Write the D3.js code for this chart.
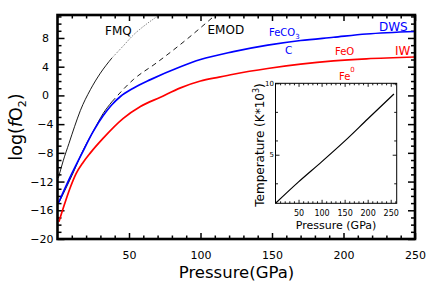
<!DOCTYPE html>
<html>
<head>
<meta charset="utf-8">
<script src="https://cdn.jsdelivr.net/npm/d3@7"></script>
<style>
  body { margin: 0; background: #fff; }
  svg { display: block; font-family: "DejaVu Sans", sans-serif; }
</style>
</head>
<body>
<div id="chart"></div>
<script>
// ---- data (pressure in GPa, log fO2) ----
var iwP   = [1, 5, 9, 13, 18, 23, 32, 46, 58, 72, 86, 100, 113, 123, 147, 170, 193, 216, 250];
var iwV   = [-17.6, -15.1, -12.8, -10.9, -9.3, -8.0, -5.95, -3.2, -1.55, -0.25, 1.05, 2.0, 2.55, 2.95, 3.75, 4.35, 4.8, 5.1, 5.35];

var dwsP  = [0.6, 10, 17, 25, 32, 38, 44, 53, 65, 86, 100, 123, 147, 170, 193, 216, 250];
var dwsV  = [-15, -10.9, -8.1, -5.0, -2.8, -1.3, -0.15, 1.0, 2.2, 4.0, 5.0, 6.1, 7.0, 7.65, 8.1, 8.55, 8.9];

var fmqP    = [0.6, 4, 8, 12, 16, 23, 30, 38];
var fmqV    = [-11.5, -9.1, -6.7, -4.3, -2.1, 0.8, 3.1, 5.2];
var fmqDotP = [38, 46, 53, 62, 72];
var fmqDotV = [5.2, 6.9, 8.4, 9.9, 11.3];

var emodP     = [1.3, 10, 18, 25, 32, 38];
var emodV     = [-14.8, -11.2, -7.6, -5.0, -2.5, -0.9];
var emodDashP = [38, 53, 69, 90, 104, 111];
var emodDashV = [-0.9, 2.2, 4.5, 7.75, 10.1, 11.3];

// inset: temperature (K*10^3) vs pressure
var tempP = [0, 50, 100, 150, 200, 257];
var tempT = [1.6, 3.1, 4.5, 5.95, 7.5, 9.25];

var xTicks = [50, 100, 150, 200, 250];
var yTicks = [-20, -16, -12, -8, -4, 0, 4, 8];
var insetXTicks = [50, 100, 150, 200, 250];
var insetYTicks = [5, 10];
var insetYMinor = [3, 6, 8];

var margin = {top: 15, right: 21, bottom: 58, left: 57.5},
    width = 436 - margin.left - margin.right,
    height = 297 - margin.top - margin.bottom;

var svg = d3.select("#chart").append("svg")
    .attr("width", 436)
    .attr("height", 297);

var g = svg.append("g")
    .attr("transform", "translate(" + margin.left + "," + margin.top + ")");

var x = d3.scaleLinear().domain([0, 250]).range([0, width]);
var y = d3.scaleLinear().domain([-20, 11.2]).range([height, 0]);

function pairs(a, b) { return a.map(function(v, i) { return [v, b[i]]; }); }

// ticks point inwards on all four sides
function tickAxis(axis, tr, size, pad, vals, fmt) {
    var a = g.append("g").attr("transform", tr)
        .call(axis.tickValues(vals).tickSize(-size).tickPadding(pad).tickFormat(fmt));
    a.select(".domain").remove();
    a.selectAll("line").attr("stroke", "#000").attr("stroke-width", 1.5);
    a.selectAll("text").attr("font-family", "DejaVu Sans, sans-serif").attr("font-size", 11).attr("fill", "#000");
    return a;
}
var xMinor = d3.range(10, 250, 10).filter(function(d) { return d % 50; });
var yMinor = d3.range(-19, 12, 1).filter(function(d) { return d % 4; });

tickAxis(d3.axisBottom(x), "translate(0," + height + ")", 6, 12, xTicks, d3.format("d"));
tickAxis(d3.axisBottom(x), "translate(0," + height + ")", 3.5, 0, xMinor, "");
tickAxis(d3.axisTop(x), "translate(0,0)", 6, 0, xTicks, "");
tickAxis(d3.axisTop(x), "translate(0,0)", 3.5, 0, xMinor, "");
var yl = tickAxis(d3.axisLeft(y), "translate(0,0)", 7, 4, yTicks, d3.format("d"));
yl.selectAll("text").attr("dx", function(d) { return d >= 0 ? -4.5 : 0; });
tickAxis(d3.axisLeft(y), "translate(0,0)", 4, 0, yMinor, "");
tickAxis(d3.axisRight(y), "translate(" + width + ",0)", 7, 0, yTicks, "");
tickAxis(d3.axisRight(y), "translate(" + width + ",0)", 4, 0, yMinor, "");

// curves
g.append("clipPath").attr("id", "clip")
  .append("rect").attr("width", width).attr("height", height);

var line = d3.line()
    .x(function(d) { return x(d[0]); })
    .y(function(d) { return y(d[1]); })
    .curve(d3.curveMonotoneX);

var curves = g.append("g").attr("clip-path", "url(#clip)");

curves.append("path").datum(pairs(fmqP, fmqV)).attr("d", line)
    .attr("fill", "none").attr("stroke", "#000").attr("stroke-width", 0.9);
curves.append("path").datum(pairs(fmqDotP, fmqDotV)).attr("d", line)
    .attr("fill", "none").attr("stroke", "#444").attr("stroke-width", 0.8)
    .attr("stroke-dasharray", "1,1.3");
curves.append("path").datum(pairs(emodP, emodV)).attr("d", line)
    .attr("fill", "none").attr("stroke", "#000").attr("stroke-width", 0.9);
curves.append("path").datum(pairs(emodDashP, emodDashV)).attr("d", line)
    .attr("fill", "none").attr("stroke", "#000").attr("stroke-width", 0.9)
    .attr("stroke-dasharray", "5,4");
curves.append("path").datum(pairs(dwsP, dwsV)).attr("d", line)
    .attr("fill", "none").attr("stroke", "#0000ff").attr("stroke-width", 1.7);
curves.append("path").datum(pairs(iwP, iwV)).attr("d", line)
    .attr("fill", "none").attr("stroke", "#ff0000").attr("stroke-width", 1.7);

// frame
g.append("rect").attr("width", width).attr("height", height)
    .attr("fill", "none").attr("stroke", "#000").attr("stroke-width", 2.6);

// curve labels (svg coords)
function label(txt, px, py, size, col) {
    return svg.append("text").attr("x", px).attr("y", py)
        .attr("font-size", size).attr("fill", col).text(txt);
}
label("FMQ", 105, 34.5, 12, "#000");
label("EMOD", 207.5, 33.5, 12, "#000");
var fc = label("FeCO", 269, 36, 10, "#0000ff");
fc.append("tspan").attr("font-size", 7).attr("dy", 3).text("3");
label("C", 285, 53.5, 10.5, "#0000ff");
label("FeO", 335, 55, 10, "#ff0000");
var fe = label("Fe", 339, 80, 10, "#ff0000");
fe.append("tspan").attr("font-size", 7).attr("dy", -8).text("0");
label("DWS", 379, 31, 12, "#0000ff");
label("IW", 395, 55, 12, "#ff0000");

// axis titles
svg.append("text").attr("x", 236.5).attr("y", 277.5)
    .attr("text-anchor", "middle").attr("font-size", 16.5).text("Pressure(GPa)");

var yt = svg.append("text")
    .attr("transform", "translate(21.5,127) rotate(-90)")
    .attr("text-anchor", "middle").attr("font-size", 17.5);
yt.append("tspan").text("log(");
yt.append("tspan").attr("font-style", "italic").text("f");
yt.append("tspan").text("O");
yt.append("tspan").attr("font-size", 11).attr("dy", 4).text("2");
yt.append("tspan").attr("dy", -4).text(")");

// ---- inset ----
var ins = {left: 275.5, top: 83.3, w: 121.2, h: 120};
var ig = svg.append("g").attr("transform", "translate(" + ins.left + "," + ins.top + ")");
ig.append("rect").attr("width", ins.w).attr("height", ins.h).attr("fill", "#fff");

var ix = d3.scaleLinear().domain([0, 263]).range([0, ins.w]);
var iy = d3.scaleLinear().domain([1.6, 10]).range([ins.h, 0]);

function insetAxis(axis, tr, size, pad, vals, fmt, fs) {
    var a = ig.append("g").attr("transform", tr)
        .call(axis.tickValues(vals).tickSize(-size).tickPadding(pad).tickFormat(fmt));
    a.select(".domain").remove();
    a.selectAll("line").attr("stroke", "#000").attr("stroke-width", 0.9);
    a.selectAll("text").attr("font-family", "DejaVu Sans, sans-serif").attr("font-size", fs).attr("fill", "#000");
    return a;
}
var ixMinor = d3.range(10, 263, 10).filter(function(d) { return d % 50; });
insetAxis(d3.axisBottom(ix), "translate(0," + ins.h + ")", 3.5, 7, insetXTicks, d3.format("d"), 8);
insetAxis(d3.axisBottom(ix), "translate(0," + ins.h + ")", 2, 0, ixMinor, "", 8);
insetAxis(d3.axisTop(ix), "translate(0,0)", 3.5, 0, insetXTicks, "", 8);
insetAxis(d3.axisTop(ix), "translate(0,0)", 2, 0, ixMinor, "", 8);
insetAxis(d3.axisLeft(iy), "translate(0,0)", 4, 1.5, insetYTicks, d3.format("d"), 7);
insetAxis(d3.axisLeft(iy), "translate(0,0)", 2.5, 0, insetYMinor, "", 7);
insetAxis(d3.axisRight(iy), "translate(" + ins.w + ",0)", 4, 0, insetYTicks, "", 7);
insetAxis(d3.axisRight(iy), "translate(" + ins.w + ",0)", 2.5, 0, insetYMinor, "", 7);

var iline = d3.line()
    .x(function(d) { return ix(d[0]); })
    .y(function(d) { return iy(d[1]); })
    .curve(d3.curveMonotoneX);
ig.append("path").datum(pairs(tempP, tempT)).attr("d", iline)
    .attr("fill", "none").attr("stroke", "#000").attr("stroke-width", 1.2);

ig.append("rect").attr("width", ins.w).attr("height", ins.h)
    .attr("fill", "none").attr("stroke", "#000").attr("stroke-width", 1);

svg.append("text").attr("x", ins.left + ins.w / 2).attr("y", 228.5)
    .attr("text-anchor", "middle").attr("font-size", 11).text("Pressure (GPa)");

var tt = svg.append("text")
    .attr("transform", "translate(264,145) rotate(-90)")
    .attr("text-anchor", "middle").attr("font-size", 12);
tt.append("tspan").text("Temperature (K*10");
tt.append("tspan").attr("font-size", 8).attr("dy", -5).text("3");
tt.append("tspan").attr("dy", 5).text(")");
</script>
</body>
</html>
